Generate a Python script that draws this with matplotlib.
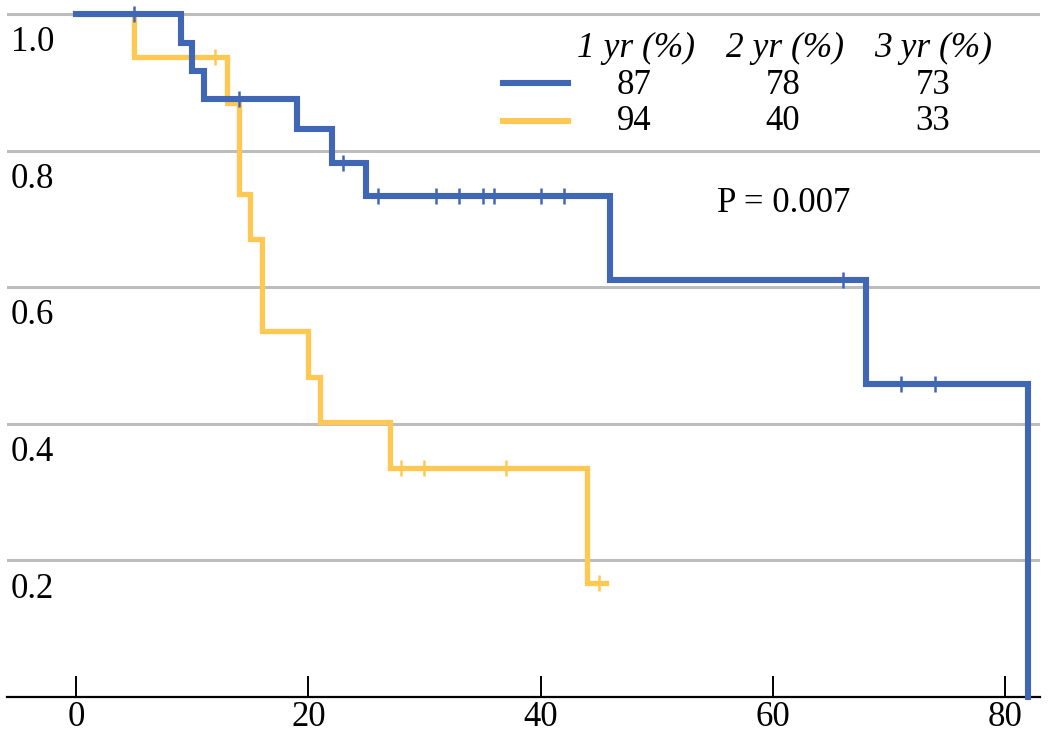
import matplotlib
matplotlib.use("Agg")
import matplotlib.pyplot as plt
from matplotlib.lines import Line2D

plt.rcParams['font.family'] = ['Liberation Serif', 'DejaVu Serif']

# Kaplan-Meier steps (time, survival)
blue_t = [0, 9, 10, 11, 19, 22, 25, 46, 68, 82]
blue_s = [1.0, 0.958, 0.917, 0.875, 0.831, 0.782, 0.733, 0.611, 0.458, 0.0]
blue_end = 82
blue_cens_t = [5, 14, 23, 26, 31, 33, 35, 36, 40, 42, 66, 71, 74]
blue_cens_s = [1.0, 0.875, 0.782, 0.733, 0.733, 0.733, 0.733, 0.733, 0.733, 0.733, 0.611, 0.458, 0.458]

yel_t = [0, 5, 13, 14, 15, 16, 20, 21, 27, 44]
yel_s = [1.0, 0.9375, 0.870, 0.737, 0.670, 0.536, 0.469, 0.402, 0.335, 0.167]
yel_end = 45
yel_cens_t = [12, 28, 30, 37, 45]
yel_cens_s = [0.9375, 0.335, 0.335, 0.335, 0.167]

yr_headers = ["1 yr (%)", "2 yr (%)", "3 yr (%)"]
blue_rates = ["87", "78", "73"]
yel_rates = ["94", "40", "33"]
p_text = "P = 0.007"

blue = "#3F67B5"
yellow = "#FFC852"

W, H = 1050, 736
fig = plt.figure(figsize=(W / 100, H / 100), dpi=100)
ax = fig.add_axes([7 / W, (H - 697) / H, (1040 - 7) / W, 697 / H])
ax.set_xlim(-5.95, 83.0)
ax.set_ylim(0, 697 / 683)

# grid lines
for g in [0.2, 0.4, 0.6, 0.8, 1.0]:
    ax.axhline(g, color="#BDBDBD", lw=2.2, zorder=1)
    ax.text(-5.6, g - 0.018, f"{g:.1f}", ha="left", va="top", fontsize=25, zorder=2)

# curves
ax.step(blue_t + [blue_end], blue_s + [blue_s[-1]], where="post", color=blue, lw=4.4,
        zorder=4, clip_on=False, solid_joinstyle="miter")
ax.step(yel_t + [yel_end + 0.6], yel_s + [yel_s[-1]], where="post", color=yellow, lw=3.8,
        zorder=3, clip_on=False, solid_joinstyle="miter")
ax.plot(blue_cens_t, blue_cens_s, ls="none", marker="|", ms=12, mew=1.8, color=blue, zorder=5, clip_on=False)
ax.plot(yel_cens_t, yel_cens_s, ls="none", marker="|", ms=12, mew=1.8, color=yellow, zorder=4, clip_on=False)

# axes styling
for s in ["left", "right", "top"]:
    ax.spines[s].set_visible(False)
ax.spines["bottom"].set_linewidth(1.6)
ax.set_yticks([])
ax.set_xticks([0, 20, 40, 60, 80])
ax.tick_params(axis="x", direction="in", length=15, width=1.4, labelsize=25, pad=3)

# legend table
def fx(px):
    return px / W

def fy(py):
    return 1 - py / H

for x, h in zip([636, 785, 933], yr_headers):
    fig.text(fx(x), fy(48), h, ha="center", va="center", fontsize=25.5, style="italic")
for x, v in zip([634, 783, 933], blue_rates):
    fig.text(fx(x), fy(85), v, ha="center", va="center", fontsize=25)
for x, v in zip([634, 783, 933], yel_rates):
    fig.text(fx(x), fy(122), v, ha="center", va="center", fontsize=25)
fig.add_artist(Line2D([fx(503), fx(568)], [fy(83), fy(83)], color=blue, lw=4.4))
fig.add_artist(Line2D([fx(503), fx(568)], [fy(121), fy(121)], color=yellow, lw=4.4))

fig.text(fx(784), fy(203), p_text, ha="center", va="center", fontsize=25)

fig.savefig("out.png", dpi=100)
